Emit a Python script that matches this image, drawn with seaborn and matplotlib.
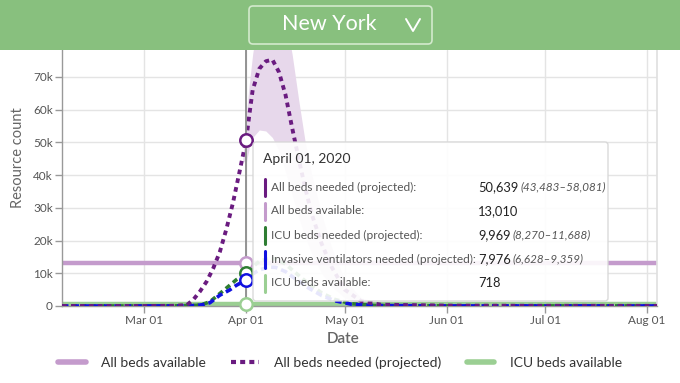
import pandas as pd
import matplotlib.pyplot as plt
import matplotlib.dates as mdates
from matplotlib.patches import FancyBboxPatch, Rectangle
from matplotlib.lines import Line2D
import seaborn as sns

# --- data ---
x_range = ["2020-02-05", "2020-08-04"]
all_beds_available = 13010
icu_beds_available = 718

needed_dates = ["2020-02-05", "2020-03-01", "2020-03-10", "2020-03-14", "2020-03-16",
                "2020-03-18", "2020-03-20", "2020-03-22", "2020-03-24", "2020-03-26",
                "2020-03-28", "2020-03-30", "2020-04-01", "2020-04-02", "2020-04-03",
                "2020-04-05", "2020-04-07", "2020-04-09", "2020-04-11", "2020-04-13",
                "2020-04-15", "2020-04-17", "2020-04-19", "2020-04-21", "2020-04-24",
                "2020-04-27", "2020-05-01", "2020-05-06", "2020-05-12", "2020-06-01",
                "2020-07-01", "2020-08-04"]
all_beds_needed = [0, 0, 60, 300, 2000, 4500, 7500, 11500, 16500, 23500, 31500, 41000,
                   50639, 58500, 66000, 72500, 74800, 75300, 71500, 64500, 54500, 45000,
                   36000, 28000, 19000, 12000, 5000, 1500, 400, 120, 60, 40]

band_dates = ["2020-03-31", "2020-04-01", "2020-04-02", "2020-04-03", "2020-04-05",
              "2020-04-07", "2020-04-09", "2020-04-11", "2020-04-13", "2020-04-15",
              "2020-04-17", "2020-04-19", "2020-04-21", "2020-04-24", "2020-04-27",
              "2020-05-01", "2020-05-06", "2020-05-12", "2020-05-20"]
band_upper = [45000, 58081, 68000, 77000, 90000, 98000, 100000, 97000, 88000, 77000,
              63000, 50000, 40000, 28000, 18000, 8000, 2500, 700, 150]
band_lower = [44500, 43483, 48500, 51500, 53800, 53500, 51500, 47500, 41000, 34000,
              27000, 21000, 16000, 10000, 6000, 2500, 700, 200, 50]

small_dates = ["2020-02-05", "2020-03-10", "2020-03-17", "2020-03-19", "2020-03-21",
               "2020-03-24", "2020-03-27", "2020-03-29", "2020-04-01", "2020-04-03",
               "2020-04-05", "2020-04-08", "2020-04-10", "2020-04-13", "2020-04-16",
               "2020-04-20", "2020-04-24", "2020-04-28", "2020-05-03", "2020-05-10",
               "2020-06-01", "2020-08-04"]
icu_beds_needed = [0, 20, 200, 600, 1300, 3800, 6300, 8000, 9969, 12000, 13600, 14600,
                   14400, 12800, 10200, 6800, 4000, 2000, 700, 150, 40, 20]
ventilators_needed = [0, 15, 150, 450, 1000, 3300, 4900, 6300, 7976, 9800, 11000, 11900,
                      11800, 10500, 8300, 5500, 3200, 1600, 550, 120, 30, 15]

hover_date = "2020-04-01"
tip_title = "April 01, 2020"
tip_labels = ["All beds needed (projected):", "All beds available:",
              "ICU beds needed (projected):", "Invasive ventilators needed (projected):",
              "ICU beds available:"]
tip_values = ["50,639", "13,010", "9,969", "7,976", "718"]
tip_ranges = ["(43,483\u201358,081)", "", "(8,270\u201311,688)", "(6,628\u20139,359)", ""]

C_NEED = "#6a1b80"
C_AVAIL = "#c49bcc"
C_BAND = "#e7d8eb"
C_ICU = "#2e7d32"
C_VENT = "#1010e0"
C_ICU_AVAIL = "#9bcf93"
C_HEADER = "#88c07e"

sns.set_theme(style="white")
plt.rcParams["font.family"] = ["Lato", "DejaVu Sans"]

W, H = 680, 383
fig = plt.figure(figsize=(W / 100, H / 100), dpi=100)


def P(x, y):
    # pixel (from top-left) -> inches for fig.dpi_scale_trans
    return x / 100, (H - y) / 100


ax = fig.add_axes([62 / W, 1 - 306 / H, (657 - 62) / W, (306 - 50) / H])

# band + lines
ax.fill_between(pd.to_datetime(band_dates), band_lower, band_upper, color=C_BAND, lw=0, zorder=1)
xr = pd.to_datetime(x_range)
sns.lineplot(x=xr, y=[all_beds_available] * 2, color=C_AVAIL, lw=3.2, ax=ax, zorder=2)
sns.lineplot(x=xr, y=[icu_beds_available] * 2, color=C_ICU_AVAIL, lw=3.2, ax=ax, zorder=2)
sns.lineplot(x=pd.to_datetime(small_dates), y=icu_beds_needed, color=C_ICU, lw=2.6,
             linestyle=(0, (1.5, 1.1)), ax=ax, zorder=3)
sns.lineplot(x=pd.to_datetime(small_dates), y=ventilators_needed, color=C_VENT, lw=2.6,
             linestyle=(0, (1.8, 1.1)), ax=ax, zorder=3)
sns.lineplot(x=pd.to_datetime(needed_dates), y=all_beds_needed, color=C_NEED, lw=2.8,
             linestyle=(0, (1.2, 1.1)), ax=ax, zorder=3)

hd = pd.Timestamp(hover_date)
ax.axvline(hd, color="#8c8c8c", lw=1.3, zorder=4)
marker_vals = [all_beds_needed[needed_dates.index(hover_date)], all_beds_available,
               icu_beds_needed[small_dates.index(hover_date)],
               ventilators_needed[small_dates.index(hover_date)], icu_beds_available]
marker_cols = [C_NEED, C_AVAIL, C_ICU, C_VENT, C_ICU_AVAIL]
for v, c in zip(marker_vals, marker_cols):
    ax.scatter([hd], [v], s=80, facecolor="white", edgecolor=c, linewidth=1.8, zorder=6, clip_on=False)

# axes styling
ax.set_xlim(xr[0], xr[1])
ax.set_ylim(0, 78250)
ax.set_yticks(range(0, 80000, 10000))
ax.set_yticklabels(["0"] + [f"{k}k" for k in range(10, 80, 10)])
ax.xaxis.set_major_locator(mdates.MonthLocator())
ax.xaxis.set_major_formatter(mdates.DateFormatter("%b %d"))
ax.grid(True, color="#e4e4e4", lw=1)
ax.set_axisbelow(True)
ax.tick_params(axis="both", length=5, width=1, color="#999999", labelsize=8.5,
               labelcolor="#555555", pad=1.5, left=True, bottom=True)
for s in ["left", "bottom"]:
    ax.spines[s].set_color("#999999")
    ax.spines[s].set_linewidth(1)
ax.spines["top"].set_visible(False)
ax.spines["right"].set_color("#e0e0e0")

ax.set_ylabel("Resource count", fontsize=10.5, color="#666666")
ax.yaxis.set_label_coords((25 - 62) / 595, (306 - 158) / 256)
ax.set_xlabel("Date", fontsize=11, color="#666666", fontweight="semibold")
ax.xaxis.set_label_coords((343.5 - 62) / 595, (306 - 332) / 256)

# legend (only three entries are visible)
handles = [Line2D([], [], color=C_AVAIL, lw=4),
           Line2D([], [], color=C_NEED, lw=3, linestyle=(0, (1.2, 1.0))),
           Line2D([], [], color=C_ICU_AVAIL, lw=4)]
fig.legend(handles, ["All beds available", "All beds needed (projected)", "ICU beds available"],
           loc="center", bbox_to_anchor=(340 / W, 1 - 363 / H), ncol=3, frameon=False,
           fontsize=10, handlelength=2.0, handletextpad=1.1, columnspacing=1.8,
           labelcolor="#333333")

# header with dropdown
tr = fig.dpi_scale_trans
fig.add_artist(Rectangle(P(0, 50), W / 100, 0.5, transform=tr, color=C_HEADER, lw=0, zorder=10))
fig.add_artist(FancyBboxPatch(P(249, 44), 1.83, 0.38, boxstyle="round,pad=0,rounding_size=0.04",
                              transform=tr, fc="none", ec="#d3e9cd", lw=1.2, zorder=11))
fig.add_artist(plt.Text(*P(329, 24), "New York", transform=tr, ha="center", va="center",
                        color="white", fontsize=15.5, zorder=12))
cx, cy = zip(P(406, 19), P(413, 31), P(420, 19))
fig.add_artist(Line2D(cx, cy, transform=tr, color="white", lw=1.4, zorder=12))

# tooltip
fig.add_artist(FancyBboxPatch(P(253, 301), 3.55, 1.59, boxstyle="round,pad=0,rounding_size=0.03",
                              transform=tr, fc="white", alpha=0.9, ec="#d6d6d6", lw=1, zorder=8))
fig.text(*P(263, 159), tip_title, transform=tr, ha="left", va="center", fontsize=10,
         color="#333333", zorder=9)
row_y = [187, 211, 235, 259, 283]
for yc, lab, val, rng, c in zip(row_y, tip_labels, tip_values, tip_ranges, marker_cols):
    bx, by = zip(P(264.5, yc - 8.5), P(264.5, yc + 8.5))
    fig.add_artist(Line2D(bx, by, transform=tr, color=c, lw=2.2, zorder=9))
    fig.text(*P(271, yc), lab, transform=tr, ha="left", va="center", fontsize=8.6,
             color="#555555", zorder=9)
    t = fig.text(*P(478, yc), val, transform=tr, ha="left", va="center", fontsize=9.3,
                 color="#222222", zorder=9)
    if rng:
        fig.add_artist(plt.Annotation(rng, xy=(1, 0.5), xycoords=t, xytext=(1.5, 0),
                                      textcoords="offset points", ha="left", va="center",
                                      fontsize=8.4, style="italic", color="#555555", zorder=9))

fig.savefig("out.png", dpi=100)
